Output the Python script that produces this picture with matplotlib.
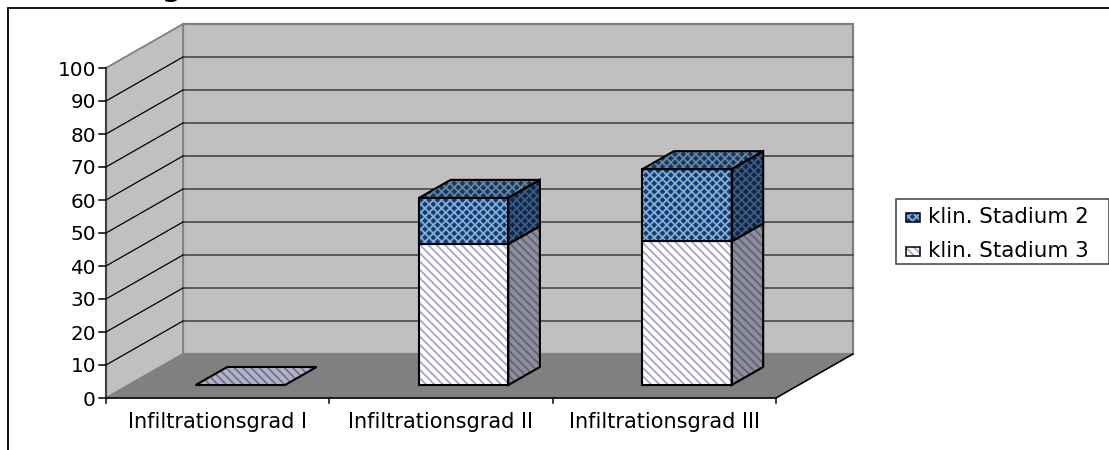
import matplotlib
matplotlib.use("Agg")
import matplotlib.pyplot as plt
from matplotlib.patches import Polygon

categories = ["Infiltrationsgrad I", "Infiltrationsgrad II", "Infiltrationsgrad III"]
stadium_3 = [0, 42.7, 43.5]
stadium_2 = [0, 14.0, 21.9]
series_names = ["klin. Stadium 2", "klin. Stadium 3"]
y_ticks = list(range(0, 101, 10))

plt.rcParams["font.family"] = ["DejaVu Sans"]
plt.rcParams["hatch.linewidth"] = 1.3

# pixel geometry of the fake 3d box
X0, Y0 = 106, 398
CAT_W = 223.3
UNIT = 3.3
DEPTH_X, DEPTH_Y = 77, -44
BAR_W = 0.4
BAR_D0, BAR_D1 = 0.295, 0.705
TICK_FONT = 14.4
CAT_FONT = 15.0
LEGEND_FONT = 15.4

WHITE_FACES = {"front": ("white", "#a4a4cc"), "top": ("#b4b4c4", "#70709a"), "side": ("#8e8e96", "#5f5f82")}
BLUE_FACES = {"front": ("#0b3f7c", "#8fabcb"), "top": ("#0d3a6c", "#6f8298"), "side": ("#08294f", "#44597a")}
WHITE_HATCH = "\\\\\\\\"
BLUE_HATCH = "xxxx"


def project(cat, value, depth=0.0):
    # cat in category units, value in axis units, depth 0 (front) to 1 (back)
    return X0 + cat * CAT_W + depth * DEPTH_X, Y0 - value * UNIT + depth * DEPTH_Y


def face(ax, pts, facecolor, hatch=None, hatch_color=None, edge="black", lw=1.5, z=3):
    ax.add_patch(Polygon(pts, closed=True, facecolor=facecolor, edgecolor=hatch_color,
                         hatch=hatch, lw=0, zorder=z))
    ax.add_patch(Polygon(pts, closed=True, fill=False, edgecolor=edge, lw=lw, zorder=z + 0.1,
                         joinstyle="miter"))


def draw_segment(ax, i, bottom, top, faces, hatch, z, show_top=True):
    c0 = i + 0.5 - BAR_W / 2
    c1 = i + 0.5 + BAR_W / 2
    if top > bottom:
        face(ax, [project(c0, bottom, BAR_D0), project(c1, bottom, BAR_D0),
                  project(c1, top, BAR_D0), project(c0, top, BAR_D0)],
             faces["front"][0], hatch, faces["front"][1], z=z)
        face(ax, [project(c1, bottom, BAR_D0), project(c1, bottom, BAR_D1),
                  project(c1, top, BAR_D1), project(c1, top, BAR_D0)],
             faces["side"][0], hatch, faces["side"][1], z=z)
    if show_top:
        face(ax, [project(c0, top, BAR_D0), project(c1, top, BAR_D0),
                  project(c1, top, BAR_D1), project(c0, top, BAR_D1)],
             faces["top"][0], hatch, faces["top"][1], z=z)


fig = plt.figure(figsize=(11.09, 4.5), dpi=100)
ax = fig.add_axes([0, 0, 1, 1])
ax.set_xlim(0, 1109)
ax.set_ylim(450, 0)
ax.axis("off")

n = len(categories)

# chart frame, open to the right and bottom
ax.plot([8, 8, 1109], [450, 8, 8], color="black", lw=1.3, zorder=1, solid_joinstyle="miter")
ax.text(172, -4.5, "g", fontsize=20, fontweight="bold", ha="center", va="baseline", clip_on=False)

# walls and floor
back = [project(0, 0, 1), project(n, 0, 1), project(n, 100, 1), project(0, 100, 1)]
left = [project(0, 0, 0), project(0, 0, 1), project(0, 100, 1), project(0, 100, 0)]
floor = [project(0, 0, 0), project(n, 0, 0), project(n, 0, 1), project(0, 0, 1)]
ax.add_patch(Polygon(back, closed=True, facecolor="#c0c0c0", edgecolor="#808080", lw=1.6, zorder=1))
ax.add_patch(Polygon(left, closed=True, facecolor="#c0c0c0", edgecolor="#808080", lw=1.3, zorder=1))
ax.add_patch(Polygon(floor, closed=True, facecolor="#808080", edgecolor="#808080", lw=1, zorder=1.2))

# gridlines
for v in y_ticks[1:-1]:
    xs, ys = zip(project(0, v, 1), project(n, v, 1))
    ax.plot(xs, ys, color="#505050", lw=1.3, zorder=1.5)
    xs, ys = zip(project(0, v, 0), project(0, v, 1))
    ax.plot(xs, ys, color="black", lw=0.9, zorder=1.5)

# axes
xs, ys = zip(project(0, 0, 0), project(0, 100, 0))
ax.plot(xs, ys, color="#404040", lw=1.5, zorder=2)
xs, ys = zip(project(0, 0, 0), project(n, 0, 0), project(n, 0, 1))
ax.plot(xs, ys, color="black", lw=1.1, zorder=2)
for v in y_ticks:
    x, y = project(0, v, 0)
    ax.plot([x - 7, x], [y, y], color="black", lw=1.1, zorder=2)
    ax.text(x - 10, y, str(v), ha="right", va="center_baseline", fontsize=TICK_FONT)
for i in range(n + 1):
    x, y = project(i, 0, 0)
    ax.plot([x, x], [y, y + 5], color="black", lw=1.1, zorder=2)
for i, name in enumerate(categories):
    x, y = project(i + 0.5, 0, 0)
    ax.text(x, y + 22, name, ha="center", va="center_baseline", fontsize=CAT_FONT)

# stacked bars
for i in range(n):
    total = stadium_3[i] + stadium_2[i]
    draw_segment(ax, i, 0, stadium_3[i], WHITE_FACES, WHITE_HATCH, 3, show_top=stadium_2[i] == 0)
    if stadium_2[i] > 0:
        draw_segment(ax, i, stadium_3[i], total, BLUE_FACES, BLUE_HATCH, 4)

# legend
ax.add_patch(Polygon([(896, 199), (1108.5, 199), (1108.5, 264), (896, 264)], closed=True,
                     facecolor="white", edgecolor="#404040", lw=1.1, zorder=5))
legend_faces = [BLUE_FACES, WHITE_FACES]
legend_hatch = [BLUE_HATCH, WHITE_HATCH]
for k, name in enumerate(series_names):
    yc = 217 + k * 34
    fc, hc = legend_faces[k]["front"]
    face(ax, [(906, yc - 4.5), (920, yc - 4.5), (920, yc + 4.5), (906, yc + 4.5)], fc,
         legend_hatch[k], hc, lw=1.1, z=6)
    ax.text(928, yc - 2, name, ha="left", va="center_baseline", fontsize=LEGEND_FONT, zorder=6)

fig.savefig("out.png", dpi=100)
